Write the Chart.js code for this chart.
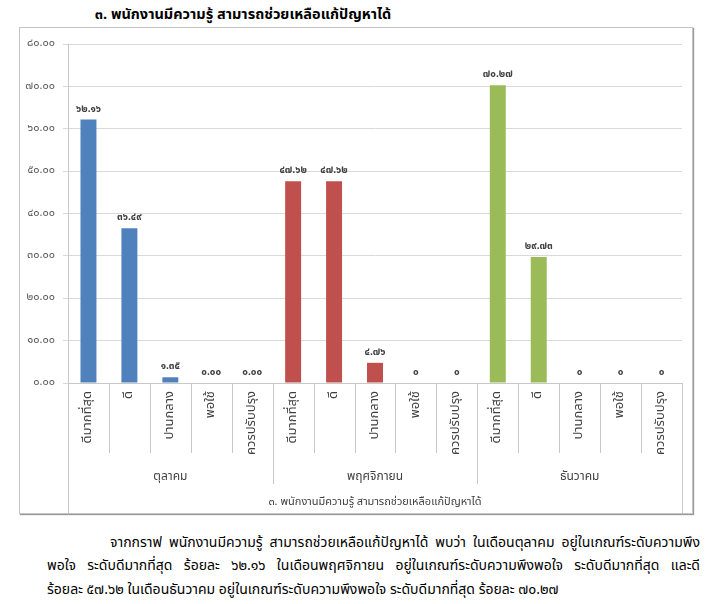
<!DOCTYPE html>
<html>
<head>
<meta charset="utf-8">
<script src="https://cdn.jsdelivr.net/npm/chart.js@4.4.1/dist/chart.umd.min.js"></script>
<style>
  body { margin: 0; width: 720px; height: 604px; background: #fff; position: relative; overflow: hidden;
         font-family: Tahoma, 'Noto Sans Thai', 'Noto Sans', sans-serif; }
  #title { position: absolute; left: 0; top: 4px; width: 486px; text-align: center;
           font-weight: bold; font-size: 14.5px; color: #000; }
  #frame { position: absolute; left: 19px; top: 27px; width: 672px; height: 485px;
           border: 1px solid #c4c4c4; box-shadow: 1px 1px 1px #9a9a9a; }
  .line { position: absolute; font-size: 14px; color: #000; white-space: nowrap; }
  .just { text-align: justify; text-align-last: justify; }
</style>
</head>
<body>
<div id="title">๓. พนักงานมีความรู้ สามารถช่วยเหลือแก้ปัญหาได้</div>
<div id="frame"><canvas id="chart"></canvas></div>
<div class="line just" style="left:110px; top:532px; width:590px;">จากกราฟ พนักงานมีความรู้ สามารถช่วยเหลือแก้ปัญหาได้ พบว่า ในเดือนตุลาคม อยู่ในเกณฑ์ระดับความพึง</div>
<div class="line just" style="left:47px; top:555px; width:653px;">พอใจ ระดับดีมากที่สุด ร้อยละ ๖๒.๑๖ ในเดือนพฤศจิกายน อยู่ในเกณฑ์ระดับความพึงพอใจ ระดับดีมากที่สุด และดี</div>
<div class="line" style="left:47px; top:579px;">ร้อยละ ๕๗.๖๒ ในเดือนธันวาคม อยู่ในเกณฑ์ระดับความพึงพอใจ ระดับดีมากที่สุด ร้อยละ ๗๐.๒๗</div>
<script>
// levels and months
const levels = ['ดีมากที่สุด', 'ดี', 'ปานกลาง', 'พอใช้', 'ควรปรับปรุง'];
const months = ['ตุลาคม', 'พฤศจิกายน', 'ธันวาคม'];
const axisTitle = '๓. พนักงานมีความรู้ สามารถช่วยเหลือแก้ปัญหาได้';

// percentages per month
const octValues = [62.16, 36.49, 1.35, 0.00, 0.00];
const novValues = [47.62, 47.62, 4.76, 0, 0];
const decValues = [70.27, 29.73, 0, 0, 0];

const monthColors = ['#4F81BD', '#C0504D', '#9BBB59'];

function thai(s) {
    return String(s).replace(/[0-9]/g, d => '๐๑๒๓๔๕๖๗๘๙'[d]);
}

const allValues = [octValues, novValues, decValues];
const labels = [];
const values = [];
const colors = [];
const valueText = [];
allValues.forEach((arr, m) => {
    arr.forEach((v, i) => {
        labels.push(levels[i]);
        values.push(v);
        colors.push(monthColors[m]);
        // first month shows two decimals even for zero, later months show plain 0
        valueText.push(thai(v === 0 && m > 0 ? '0' : v.toFixed(2)));
    });
});

const FONT = "Tahoma, 'Noto Sans Thai', 'Noto Sans', sans-serif";

// value labels above bars
const barLabels = {
    id: 'barLabels',
    afterDatasetsDraw(chart) {
        const ctx = chart.ctx;
        const meta = chart.getDatasetMeta(0);
        ctx.save();
        ctx.font = 'bold 10px ' + FONT;
        ctx.fillStyle = '#404040';
        ctx.textAlign = 'center';
        ctx.textBaseline = 'bottom';
        meta.data.forEach((bar, i) => {
            ctx.fillText(valueText[i], bar.x, bar.y - 5);
        });
        ctx.restore();
    }
};

// multi-level category axis
const multiAxis = {
    id: 'multiAxis',
    afterDraw(chart) {
        const ctx = chart.ctx;
        const x = chart.scales.x;
        const area = chart.chartArea;
        const n = labels.length;
        const step = (area.right - area.left) / n;
        const bottom = chart.height;
        ctx.save();
        ctx.strokeStyle = '#c8c8c8';
        ctx.lineWidth = 1;
        for (let i = 0; i <= n; i++) {
            const px = Math.round(area.left + i * step) + 0.5;
            let end = area.bottom + 70;
            if (i % levels.length === 0) end = area.bottom + 101;
            if (i === 0 || i === n) end = bottom;
            ctx.beginPath();
            ctx.moveTo(px, area.bottom);
            ctx.lineTo(px, end);
            ctx.stroke();
        }
        // rotated level labels
        ctx.fillStyle = '#404040';
        ctx.font = '13px ' + FONT;
        ctx.textAlign = 'right';
        ctx.textBaseline = 'middle';
        labels.forEach((lab, i) => {
            const cx = x.getPixelForValue(i);
            ctx.save();
            ctx.translate(cx, area.bottom + 8);
            ctx.rotate(-Math.PI / 2);
            ctx.fillText(lab, 0, 0);
            ctx.restore();
        });
        // month labels
        ctx.textAlign = 'center';
        ctx.font = '12px ' + FONT;
        months.forEach((m, g) => {
            const cx = area.left + (g * levels.length + levels.length / 2) * step;
            ctx.fillText(m, cx, area.bottom + 95);
        });
        // bottom title row
        ctx.font = '11px ' + FONT;
        ctx.fillText(axisTitle, (area.left + area.right) / 2, area.bottom + 120);
        ctx.restore();
    }
};

new Chart(document.getElementById('chart').getContext('2d'), {
    type: 'bar',
    data: {
        labels: labels,
        datasets: [{
            data: values,
            backgroundColor: colors,
            borderWidth: 0,
            barPercentage: 0.39,
            categoryPercentage: 1.0
        }]
    },
    options: {
        responsive: true,
        maintainAspectRatio: false,
        animation: false,
        layout: { padding: { top: 16, right: 10, left: 0, bottom: 0 } },
        plugins: {
            legend: { display: false },
            tooltip: { enabled: false }
        },
        scales: {
            x: {
                grid: { display: false },
                border: { display: true, color: '#c8c8c8' },
                ticks: { display: false },
                afterFit(scale) { scale.height = 130; }
            },
            y: {
                min: 0,
                max: 80,
                ticks: {
                    stepSize: 10,
                    padding: 8,
                    color: '#595959',
                    font: { family: FONT, size: 11 },
                    callback: v => thai(Number(v).toFixed(2))
                },
                grid: { color: '#d9d9d9', tickLength: 5, tickColor: '#d9d9d9' },
                border: { display: true, color: '#c8c8c8' },
                afterFit(scale) { scale.width = 48; }
            }
        }
    },
    plugins: [barLabels, multiAxis]
});
</script>
</body>
</html>
